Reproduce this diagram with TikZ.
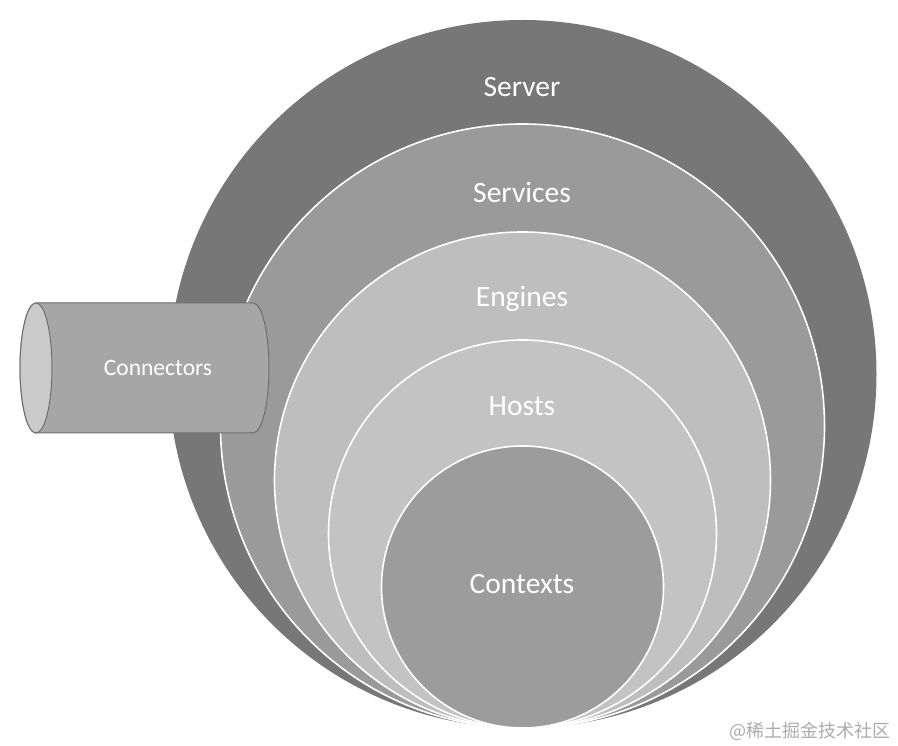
\documentclass[tikz,border=0pt]{standalone}
\usepackage{fontspec}
\usetikzlibrary{shapes.geometric}
\setmainfont{Carlito}
\newfontfamily\cjk{Noto Sans CJK SC}
\definecolor{cserver}{HTML}{777777}
\definecolor{cservices}{HTML}{9A9A9A}
\definecolor{cengines}{HTML}{BEBEBE}
\definecolor{chosts}{HTML}{C3C3C3}
\definecolor{ccontexts}{HTML}{9C9C9C}
\definecolor{ccyl}{HTML}{A6A6A6}
\definecolor{ccylface}{HTML}{CACACA}
\definecolor{ccyledge}{HTML}{6E6E6E}
\definecolor{cmark}{HTML}{ABABAB}
\tikzset{
  ring/.style={circle, inner sep=0pt, draw=white, line width=1.6pt},
  lbl/.style={text=white, font=\fontsize{29.5}{32}\selectfont, inner sep=0pt},
  cyllbl/.style={text=white, font=\fontsize{23.5}{26}\selectfont, inner sep=0pt},
}
\begin{document}
\begin{tikzpicture}[x=1pt,y=1pt]
\useasboundingbox (0,0) rectangle (898,746);
% nested circles
\node[ring, draw=none, fill=cserver, minimum size=708pt] (server) at (522.5,372) {};
\node[ring, fill=cservices, minimum size=604pt] (services) at (522.5,320) {};
% connectors cylinder
\fill[ccyl, draw=ccyledge, line width=1pt]
  (36,443) coordinate (cyltop) -- (253,443)
  arc[start angle=90, end angle=-90, x radius=16, y radius=65]
  -- (36,313) arc[start angle=270, end angle=90, x radius=16, y radius=65] -- cycle;
\node[ellipse, draw=ccyledge, fill=ccylface, line width=1pt, minimum width=32pt, minimum height=130pt, inner sep=0pt] (cylface) at (36,378) {};
\node[ring, fill=cengines, minimum size=496pt] (engines) at (522.5,266) {};
\node[ring, fill=chosts, minimum size=388pt] (hosts) at (522.5,212) {};
\node[ring, fill=ccontexts, minimum size=282pt] (contexts) at (522.5,159) {};
% labels
\node[lbl] (lserver) at (522,659) {Server};
\node[lbl] (lservices) at (522,554) {Services};
\node[lbl] (lengines) at (522,447) {Engines};
\node[lbl] (lhosts) at (522,340) {Hosts};
\node[lbl] (lcontexts) at (522,162) {Contexts};
\node[cyllbl] (lconnectors) at (158,378) {Connectors};
% watermark
\node[text=cmark, font=\cjk\fontsize{18}{20}\selectfont, inner sep=0pt] (mark) at (810,15) {@稀土掘金技术社区};
\end{tikzpicture}
\end{document}
